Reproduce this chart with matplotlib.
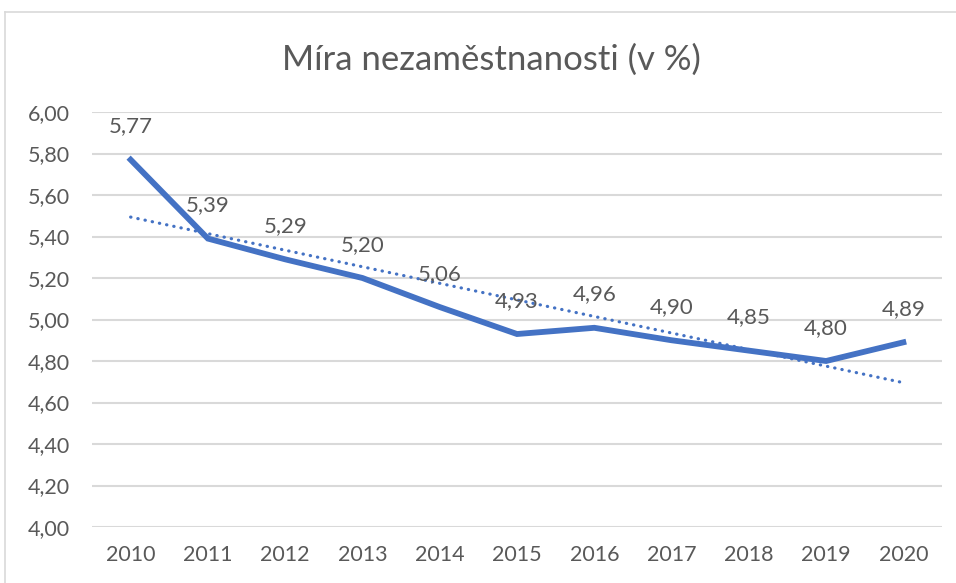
import numpy as np
import matplotlib.pyplot as plt
from matplotlib.lines import Line2D

# data
years = ['2010', '2011', '2012', '2013', '2014', '2015', '2016', '2017', '2018', '2019', '2020']
rate = [5.77, 5.39, 5.29, 5.20, 5.06, 4.93, 4.96, 4.90, 4.85, 4.80, 4.89]
yticks = [4.0, 4.2, 4.4, 4.6, 4.8, 5.0, 5.2, 5.4, 5.6, 5.8, 6.0]

blue = '#4472C4'
txt = '#595959'
grid = '#D9D9D9'

plt.rcParams['font.family'] = ['Lato', 'DejaVu Sans']

fig = plt.figure(figsize=(9.56, 5.83), dpi=100)
ax = fig.add_axes([92 / 956, 1 - 527 / 583, 850 / 956, 415 / 583])

x = np.arange(len(years))

# linear trendline (like Excel)
k, q = np.polyfit(x, rate, 1)
ax.plot(x, k * x + q, color=blue, lw=2.3, linestyle=(0, (0.1, 2.2)),
        dash_capstyle='round', zorder=2)

ax.plot(x, rate, color=blue, lw=4.2, solid_joinstyle='miter', zorder=3)

for xi, v in zip(x, rate):
    ax.annotate(f'{v:.2f}'.replace('.', ','), (xi, v), xytext=(0, 24),
                textcoords='offset points', ha='center', va='center',
                fontsize=16, color=txt, zorder=4)

ax.set_xlim(-0.5, len(years) - 0.5)
ax.set_ylim(4, 6)
ax.set_yticks(yticks)
ax.set_yticklabels([f'{t:.2f}'.replace('.', ',') for t in yticks])
ax.set_xticks(x)
ax.set_xticklabels(years)
ax.tick_params(length=0, labelsize=15.5, labelcolor=txt)
ax.tick_params(axis='y', pad=16)
ax.tick_params(axis='x', pad=13)
ax.yaxis.grid(True, color=grid, lw=1.5)
ax.set_axisbelow(True)
for s in ax.spines.values():
    s.set_visible(False)

fig.text(491 / 956, 1 - 60 / 583, 'Míra nezaměstnanosti (v %)', ha='center', va='center',
         fontsize=25, color=txt)

# chart border (cropped)
fig.add_artist(Line2D([5 / 956, 5 / 956], [0, 1 - 12 / 583], color=grid, lw=1.2))
fig.add_artist(Line2D([5 / 956, 1], [1 - 12 / 583, 1 - 12 / 583], color=grid, lw=1.2))

plt.savefig('out.png', dpi=100)
